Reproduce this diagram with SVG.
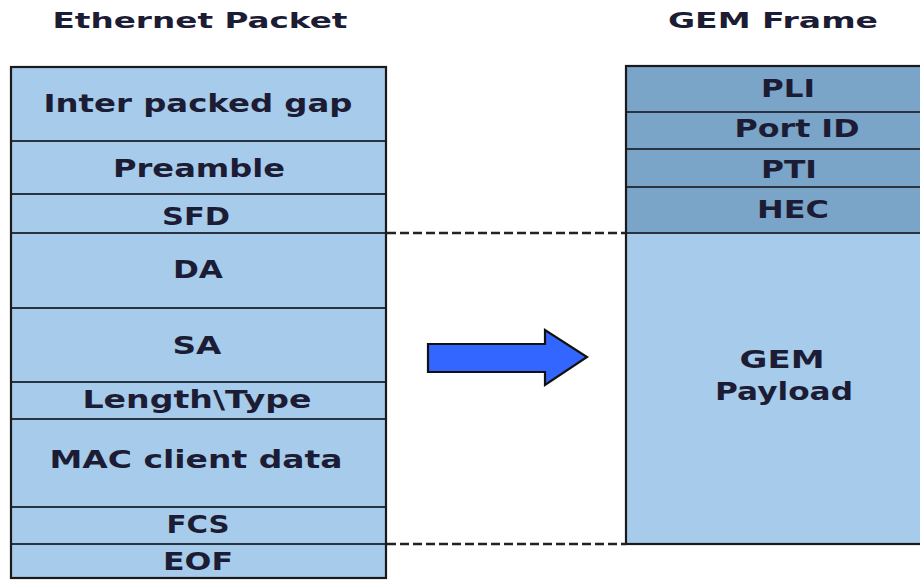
<svg xmlns="http://www.w3.org/2000/svg" width="920" height="580" viewBox="0 0 920 580">
  <defs>
    <style>
      .lbl { font-family: "DejaVu Sans", Verdana, sans-serif; font-weight: bold; font-size: 25px; fill: #1c1c34; text-anchor: middle; }
      .ttl { font-family: "DejaVu Sans", Verdana, sans-serif; font-weight: bold; font-size: 22px; fill: #1c1c34; text-anchor: middle; }
      .light { fill: #a7cbeb; stroke: none; }
      .dark { fill: #7ba4c9; stroke: none; }
      .sep { stroke: #2a3440; stroke-width: 1.8; fill: none; }
      .frame { stroke: #1a1a1a; stroke-width: 2.2; fill: none; }
      .dash { stroke: #222; stroke-width: 2.4; stroke-dasharray: 9 4; fill: none; }
    </style>
  </defs>
  <rect width="920" height="580" fill="#ffffff"/>

  <!-- titles -->
  <text id="title-ethernet" class="ttl" x="200" y="28" textLength="295" lengthAdjust="spacingAndGlyphs">Ethernet Packet</text>
  <text id="title-gem" class="ttl" x="773" y="28" textLength="210" lengthAdjust="spacingAndGlyphs">GEM Frame</text>

  <!-- Ethernet packet fields -->
  <g id="ethernet-packet">
    <rect class="light" x="11" y="67" width="375" height="511"/>
    <g id="f-ipg"><text class="lbl" x="198" y="112" textLength="309" lengthAdjust="spacingAndGlyphs">Inter packed gap</text></g>
    <g id="f-preamble"><line class="sep" x1="11" y1="141" x2="386" y2="141"/><text class="lbl" x="199" y="177" textLength="172" lengthAdjust="spacingAndGlyphs">Preamble</text></g>
    <g id="f-sfd"><line class="sep" x1="11" y1="194" x2="386" y2="194"/><text class="lbl" x="196" y="225" textLength="68" lengthAdjust="spacingAndGlyphs">SFD</text></g>
    <g id="f-da"><line class="sep" x1="11" y1="233" x2="386" y2="233"/><text class="lbl" x="198" y="278" textLength="50" lengthAdjust="spacingAndGlyphs">DA</text></g>
    <g id="f-sa"><line class="sep" x1="11" y1="308" x2="386" y2="308"/><text class="lbl" x="197" y="354" textLength="49" lengthAdjust="spacingAndGlyphs">SA</text></g>
    <g id="f-lentype"><line class="sep" x1="11" y1="382" x2="386" y2="382"/><text class="lbl" x="197" y="408" textLength="229" lengthAdjust="spacingAndGlyphs">Length\Type</text></g>
    <g id="f-mac"><line class="sep" x1="11" y1="419" x2="386" y2="419"/><text class="lbl" x="196" y="468" textLength="293" lengthAdjust="spacingAndGlyphs">MAC client data</text></g>
    <g id="f-fcs"><line class="sep" x1="11" y1="507" x2="386" y2="507"/><text class="lbl" x="198" y="533" textLength="63" lengthAdjust="spacingAndGlyphs">FCS</text></g>
    <g id="f-eof"><line class="sep" x1="11" y1="544" x2="386" y2="544"/><text class="lbl" x="198" y="570" textLength="70" lengthAdjust="spacingAndGlyphs">EOF</text></g>
    <rect class="frame" x="11" y="67" width="375" height="511"/>
  </g>

  <!-- GEM frame fields -->
  <g id="gem-frame">
    <rect class="dark" x="626" y="66" width="320" height="167"/>
    <rect class="light" x="626" y="233" width="320" height="311"/>
    <g id="g-pli"><text class="lbl" x="788" y="97" textLength="54" lengthAdjust="spacingAndGlyphs">PLI</text></g>
    <g id="g-port"><line class="sep" x1="626" y1="112" x2="946" y2="112"/><text class="lbl" x="797" y="137" textLength="125" lengthAdjust="spacingAndGlyphs">Port ID</text></g>
    <g id="g-pti"><line class="sep" x1="626" y1="149" x2="946" y2="149"/><text class="lbl" x="789" y="178" textLength="56" lengthAdjust="spacingAndGlyphs">PTI</text></g>
    <g id="g-hec"><line class="sep" x1="626" y1="187" x2="946" y2="187"/><text class="lbl" x="793" y="218" textLength="72" lengthAdjust="spacingAndGlyphs">HEC</text></g>
    <g id="g-payload"><line class="sep" x1="626" y1="233" x2="946" y2="233"/>
      <text class="lbl" x="782" y="368" textLength="85" lengthAdjust="spacingAndGlyphs">GEM</text>
      <text class="lbl" x="784" y="400" textLength="138" lengthAdjust="spacingAndGlyphs">Payload</text>
    </g>
    <rect class="frame" x="626" y="66" width="320" height="478"/>
  </g>

  <!-- connectors -->
  <g id="connectors">
    <line class="dash" x1="387" y1="233" x2="626" y2="233"/>
    <line class="dash" x1="387" y1="544" x2="626" y2="544"/>
    <path id="map-arrow" d="M428,344 L545,344 L545,330 L587,357 L545,385 L545,372 L428,372 Z" fill="#3366ff" stroke="#111" stroke-width="2.2" stroke-linejoin="miter"/>
  </g>
</svg>
